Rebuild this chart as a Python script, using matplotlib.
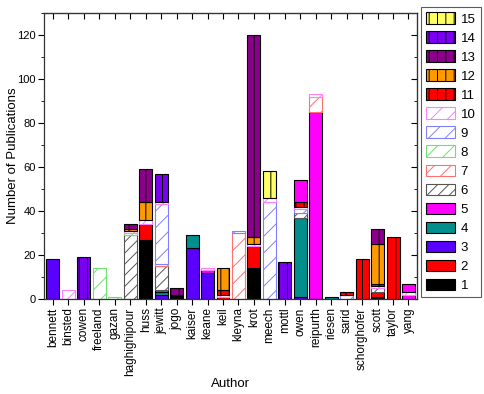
import matplotlib
matplotlib.use("Agg")
import matplotlib.pyplot as plt
from matplotlib.patches import Patch
from matplotlib.ticker import MultipleLocator

plt.rcParams['font.family'] = ['Liberation Sans', 'DejaVu Sans']
plt.rcParams['hatch.linewidth'] = 0.7

authors = ['bennett', 'binsted', 'cowen', 'freeland', 'gazan', 'haghighipour', 'huss',
           'jewitt', 'jogo', 'kaiser', 'keane', 'keil', 'kleyna', 'krot', 'meech', 'mottl',
           'owen', 'reipurth', 'riesen', 'sarid', 'schorghofer', 'scott', 'taylor', 'yang']

# stacked segments per author, bottom to top: (category, count)
stacks = [
    [(3, 18)],
    [(10, 4)],
    [(14, 19)],
    [(8, 14)],
    [(8, 1)],
    [(6, 29), (8, 1), (10, 1), (12, 1), (13, 2)],
    [(1, 27), (2, 7), (10, 2), (12, 8), (13, 15)],
    [(3, 2), (4, 1), (5, 1), (6, 11), (7, 1), (9, 27), (10, 1), (14, 13)],
    [(1, 2), (13, 3)],
    [(3, 23), (4, 6)],
    [(3, 12), (5, 1), (10, 1)],
    [(2, 1), (10, 1), (11, 2), (12, 10)],
    [(7, 30), (9, 1)],
    [(1, 14), (2, 10), (10, 1), (12, 3), (13, 92)],
    [(9, 44), (10, 2), (15, 12)],
    [(14, 17)],
    [(3, 1), (4, 36), (6, 2), (9, 2), (10, 1), (11, 2), (5, 10)],
    [(5, 85), (7, 7), (10, 1)],
    [(4, 1)],
    [(9, 2), (11, 1)],
    [(11, 18)],
    [(1, 1), (2, 2), (6, 2), (10, 1), (11, 1), (12, 18), (13, 7)],
    [(11, 28)],
    [(5, 2), (10, 1), (5, 4)],
]

categories = list(range(1, 16))

# styles: (facecolor, edgecolor, hatch)
styles = {
    1: ('#000000', '#000000', None),
    2: ('#FF0000', '#000000', None),
    3: ('#5A00FF', '#000000', None),
    4: ('#008F8C', '#000000', None),
    5: ('#FF00FF', '#000000', None),
    6: ('#FFFFFF', '#555555', '///'),
    7: ('#FFFFFF', '#FF7070', '//'),
    8: ('#FFFFFF', '#70E070', '//'),
    9: ('#FFFFFF', '#8080FF', '//'),
    10: ('#FFFFFF', '#FF80FF', '//'),
    11: ('#FF0000', '#000000', '||'),
    12: ('#FF9900', '#000000', '||'),
    13: ('#8B008B', '#000000', '||'),
    14: ('#7A00F0', '#000000', '||'),
    15: ('#FFFF66', '#000000', '||'),
}

fig = plt.figure(figsize=(4.84, 3.94), dpi=100)
ax = fig.add_axes([44/484, 1 - 299/394, (417 - 44)/484, (299 - 13)/394])

x = list(range(len(authors)))
for xi, segs in zip(x, stacks):
    bottom = 0
    for cat, val in segs:
        fc, ec, h = styles[cat]
        ax.bar(xi, val, bottom=bottom, width=0.84, color=fc, edgecolor=ec,
               hatch=h, linewidth=0.8, zorder=2)
        bottom += val

ax.set_xlim(-0.58, len(authors) - 0.45)
ax.set_ylim(0, 130)
ax.set_xticks(x)
ax.set_xticklabels(authors, rotation=90, fontsize=8.5)
ax.yaxis.set_major_locator(MultipleLocator(20))
ax.yaxis.set_minor_locator(MultipleLocator(10))
ax.tick_params(axis='y', which='major', direction='out', length=4, labelsize=8, pad=2)
ax.tick_params(axis='y', which='minor', direction='out', length=2.5)
ax.tick_params(axis='x', direction='out', length=4, pad=2)
for s in ax.spines.values():
    s.set_linewidth(0.9)
    s.set_color('#333333')

secx = ax.secondary_xaxis('top')
secx.set_xticks(x)
secx.tick_params(axis='x', direction='in', length=4, labeltop=False)
secy = ax.secondary_yaxis('right')
secy.yaxis.set_major_locator(MultipleLocator(20))
secy.yaxis.set_minor_locator(MultipleLocator(10))
secy.tick_params(axis='y', which='major', direction='in', length=4, labelright=False)
secy.tick_params(axis='y', which='minor', direction='in', length=2.5)

ax.set_xlabel('Author', fontsize=9.5, labelpad=2)
ax.set_ylabel('Number of Publications', fontsize=9.5)
ax.yaxis.set_label_coords(-0.068, 0.5)

handles = []
for cat in reversed(categories):
    fc, ec, h = styles[cat]
    handles.append(Patch(facecolor=fc, edgecolor=ec, hatch=h, linewidth=0.8, label=str(cat)))
leg = fig.legend(handles=handles, loc='upper left', bbox_to_anchor=(421/484, 1 - 7/394),
                 fontsize=9.5, frameon=True, fancybox=False, handlelength=2.2,
                 handleheight=0.95, labelspacing=0.44, handletextpad=0.4,
                 borderpad=0.4, borderaxespad=0)
leg.get_frame().set_edgecolor('#333333')
leg.get_frame().set_linewidth(0.8)

fig.savefig('out.png', dpi=100)
